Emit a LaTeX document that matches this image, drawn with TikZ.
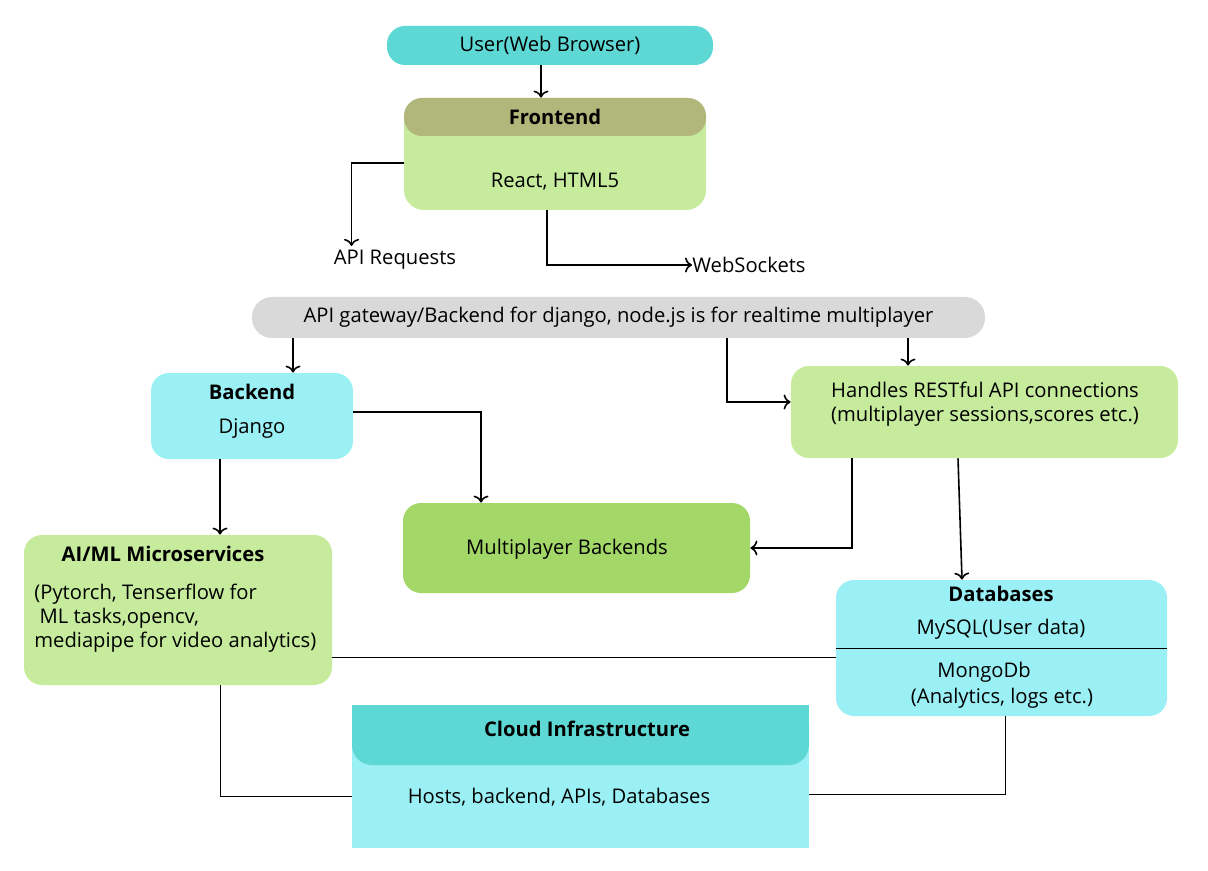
\documentclass[tikz,border=0pt]{standalone}
\usepackage{fontspec}
\setmainfont{Open Sans}
\usetikzlibrary{arrows.meta,positioning}

\definecolor{tealbox}{HTML}{5DD8D4}
\definecolor{cyanbox}{HTML}{9AF0F4}
\definecolor{greenbox}{HTML}{C6EB9C}
\definecolor{olivebox}{HTML}{B1B77A}
\definecolor{graybox}{HTML}{D9D9D9}
\definecolor{darkgreenbox}{HTML}{A3D869}

\begin{document}
\begin{tikzpicture}[x=0.5pt, y=-0.5pt,
    font=\fontsize{10.1}{12}\selectfont,
    box/.style={rectangle, rounded corners=9pt, inner sep=0pt, text centered, align=center},
    txt/.style={inner sep=0pt, align=center},
    title/.style={txt, font=\fontsize{10.1}{12}\selectfont\bfseries},
    arrow/.style={->, >={To[length=3.5pt,width=7.5pt]}, thick},
    line/.style={thin}
  ]
  \useasboundingbox (0,0) rectangle (1208,871);

  % top
  \node[box, fill=tealbox, minimum width=163pt, minimum height=19.5pt] (user) at (550,45.5) {User(Web Browser)};
  \node[box, fill=greenbox, rounded corners=10pt, minimum width=151pt, minimum height=56pt] (frontend) at (555,154) {};
  \node[box, fill=olivebox, rounded corners=9pt, minimum width=151pt, minimum height=19pt, font=\fontsize{10.1}{12}\selectfont\bfseries] (frontendhead) at (555,117) {Frontend};
  \node[txt] (frontendtxt) at (555,182) {React, HTML5};
  \node[txt] (apireq) at (395,260) {API Requests};
  \node[txt, anchor=west] (websock) at (692,265) {WebSockets};

  % gateway
  \node[box, fill=graybox, rounded corners=10pt, minimum width=366.5pt, minimum height=20.5pt] (gateway) at (618.5,317.5) {API gateway/Backend for django, node.js is for realtime multiplayer};

  % middle
  \node[box, fill=cyanbox, minimum width=101pt, minimum height=43pt] (backend) at (252,416) {};
  \node[title] (backendtitle) at (252,392) {Backend};
  \node[txt] (backendtxt) at (252,429) {Django};

  \node[box, fill=greenbox, minimum width=193.5pt, minimum height=46pt] (handles) at (984.5,412) {};
  \node[txt] (handlestxt) at (985,404) {Handles RESTful API connections\\(multiplayer sessions,scores etc.)};

  \node[box, fill=darkgreenbox, minimum width=173.5pt, minimum height=45pt] (multi) at (576.5,548) {};
  \node[txt] (multitxt) at (567,549) {Multiplayer Backends};

  \node[box, fill=greenbox, minimum width=154pt, minimum height=75pt] (aiml) at (178,610) {};
  \node[title] (aimltitle) at (163,554) {AI/ML Microservices};
  \node[txt, anchor=west, align=left] (aimltxt) at (34,618) {(Pytorch, Tenserflow for\\~ML tasks,opencv,\\mediapipe for video analytics)};

  \node[box, fill=cyanbox, minimum width=165.5pt, minimum height=68pt] (db) at (1001.5,648) {};
  \node[title] (dbtitle) at (1001,594) {Databases};
  \node[txt] (mysql) at (1001,629) {MySQL(User data)};
  \node[txt] (mongo) at (984,672) {MongoDb};
  \node[txt] (mongotxt) at (1002,698) {(Analytics, logs etc.)};
  \draw[line] (db.west) -- (db.east);

  % bottom
  \node[rectangle, fill=cyanbox, inner sep=0pt, minimum width=228.5pt, minimum height=71.5pt] (cloud) at (580.5,776.5) {};
  \fill[tealbox] (352,705) rectangle (809,735);
  \node[box, fill=tealbox, rounded corners=10pt, minimum width=228.5pt, minimum height=30pt] (cloudhead) at (580.5,735) {};
  \node[title] (cloudtitle) at (587,729) {Cloud Infrastructure};
  \node[txt] (cloudtxt) at (559,797) {Hosts, backend, APIs, Databases};

  % connectors
  \draw[arrow] ([xshift=-4.5pt]user.south) -- ([xshift=-4.5pt]user.south |- frontendhead.north);
  \draw[arrow] ([yshift=-4.5pt]frontend.west) -| ([xshift=9pt, yshift=2pt]apireq.north west);
  \draw[arrow] ([xshift=-4pt]frontend.south) |- (websock.west);
  \draw[arrow] ([xshift=20.5pt]backend.north |- gateway.south) -- ([xshift=20.5pt]backend.north);
  \draw[arrow] ([xshift=54.25pt]gateway.south) |- ([yshift=5pt]handles.west);
  \draw[arrow] ([xshift=-38.25pt]handles.north |- gateway.south) -- ([xshift=-38.25pt]handles.north);
  \draw[arrow] ([yshift=2pt]backend.east) -| ([xshift=-47.75pt]multi.north);
  \draw[arrow] ([xshift=-16pt]backend.south) -- ([xshift=-16pt]backend.south |- aiml.north);
  \draw[arrow] ([xshift=-66.25pt]handles.south) |- (multi.east);
  \draw[arrow] ([xshift=-13.25pt]handles.south) -- ([xshift=-19.75pt]db.north);
  \draw[line] ([yshift=-23.5pt]aiml.east) -- ([yshift=-4.5pt]db.west);
  \draw[line] ([xshift=21pt]aiml.south) |- ([yshift=-10pt]cloud.west);
  \draw[line] ([xshift=1.75pt]db.south) |- ([yshift=-9pt]cloud.east);
\end{tikzpicture}
\end{document}
